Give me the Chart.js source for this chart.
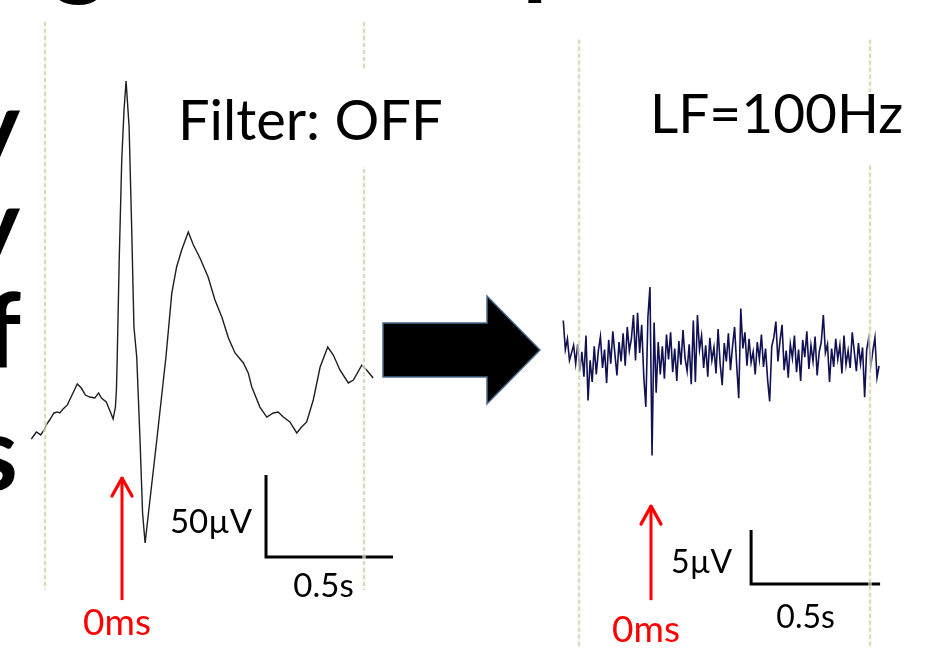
<!DOCTYPE html>
<html><head><meta charset="utf-8">
<script src="https://cdn.jsdelivr.net/npm/chart.js@4.4.0/dist/chart.umd.min.js"></script>
<style>
html,body{margin:0;padding:0;background:#fff;width:929px;height:648px;overflow:hidden}
canvas{position:absolute;left:0;top:0}
</style></head><body>
<canvas id="left" width="929" height="648"></canvas>
<canvas id="right" width="929" height="648"></canvas>
<script>
// ---------- DATA ----------
// Left panel: unfiltered trace (time in s, amplitude in µV)
const leftTime = [-0.357,-0.337,-0.320,-0.307,-0.298,-0.285,-0.268,-0.255,-0.245,-0.232,-0.215,-0.193,-0.176,-0.160,-0.144,-0.127,-0.107,-0.092,-0.081,-0.062,-0.044,-0.035,-0.026,-0.022,-0.019,-0.011,-0.001,0.008,0.016,0.028,0.038,0.047,0.058,0.071,0.081,0.091,0.110,0.137,0.173,0.196,0.215,0.235,0.261,0.281,0.307,0.339,0.366,0.393,0.419,0.445,0.478,0.497,0.511,0.543,0.570,0.596,0.615,0.635,0.661,0.688,0.707,0.727,0.753,0.780,0.810,0.832,0.858,0.891,0.911,0.944,0.963,0.989];
const leftMicroV = [-23.8,-19.5,-21.3,-18.3,-15.2,-12.2,-7.9,-7.3,-7.9,-5.5,-3.0,4.3,9.8,7.3,3.0,1.8,1.2,4.3,1.2,-1.2,-7.9,-11.6,-4.3,6.1,24.4,85.4,146.3,176.8,194.5,166.5,105.5,44.5,26.2,-24.4,-68.9,-87.2,-61.0,-24.4,26.2,65.2,81.1,91.5,102.4,94.5,86.6,75.0,61.0,50.6,37.8,28.7,22.6,16.5,7.9,-4.3,-10.4,-7.9,-7.3,-10.4,-13.4,-20.1,-16.5,-13.4,0,20.1,32.3,27.4,18.3,10.4,12.2,21.3,18.3,13.4];
const leftMarkerTimes = [-0.303, 0.953];
const leftScaleBar = {t: 0.567, v: -45.7, dT: 0.5, dV: 50, labelT: "0.5s", labelV: "50µV"};
const leftTitle = "Filter: OFF";

// Right panel: LF=100Hz filtered trace (sampled every rightStep s from rightStart)
const rightStart = -0.34, rightStep = 0.008;
const rightMicroV = [3.2,0.5,1.5,-0.5,0.2,0.9,-0.8,1.0,-1.5,0.3,-2.0,1.8,-4.2,-0.5,-2.5,0.8,-1.8,0.4,1.7,-1.2,
0.5,-2.6,1.4,-0.8,2.2,0.1,-1.9,1.2,-0.6,2.0,-1.0,2.6,0.4,1.5,3.7,-0.5,3.9,0.2,2.8,-2.0,
-4.8,3.5,6.3,-9.3,3.0,-3.5,1.2,-1.8,0.8,-2.2,1.9,-0.4,2.1,-1.6,0.6,-2.4,1.3,-0.9,2.3,-0.3,
-1.5,1.0,-2.7,3.2,-2.5,3.7,0.5,1.8,-1.2,0.9,-2.0,1.6,-0.5,0.7,-1.7,2.4,-0.8,-2.8,1.1,-0.6,
2.0,-1.4,0.8,2.6,-0.9,-4.0,4.3,0.6,2.1,-1.0,1.5,-0.7,0.3,-1.8,1.2,-0.4,1.9,-1.1,0.6,-2.3,
-4.3,0.8,1.6,3.1,-0.6,1.3,2.8,-1.4,0.4,-2.1,1.0,-0.3,1.8,-1.6,0.5,-2.4,1.4,-0.2,2.2,-1.3,
0.9,-0.6,1.7,-1.9,0.3,1.2,3.7,0.2,1.0,-2.5,0.6,-1.1,1.5,-0.4,0.9,-1.7,1.8,-0.9,0.4,-1.2,
2.1,0.3,-1.5,1.1,-0.8,0.7,-3.9,0.5,1.6,-1.0,0.4,1.6,-2.1,-1.0];
const rightMarkerTimes = [-0.279, 0.849];
const rightScaleBar = {t: 0.388, v: -16.2, dT: 0.5, dV: 5, labelT: "0.5s", labelV: "5µV"};
const rightTitle = "LF=100Hz";
const stimulusLabel = "0ms";

// ---------- LAYOUT (pixel placement of each panel) ----------
const W = 929, H = 648;
const LP = {x0: 122, pxPerS: 254, y0: 400, pxPerUV: 1.64, markTop: 230.5, markBot: -115.9, arrowTip: -47, arrowBot: -122};
const RP = {x0: 651, pxPerS: 258, y0: 355, pxPerUV: 10.8, markTop: 29.2, markBot: -27.2, arrowTip: -13.9, arrowBot: -22.7};

function scalesFor(P){
  return {
    x: {type:'linear', display:false, min: -P.x0/P.pxPerS, max: (W-P.x0)/P.pxPerS},
    y: {type:'linear', display:false, min: (P.y0-H)/P.pxPerUV, max: P.y0/P.pxPerUV}
  };
}
const FONT = 'Lato, "Open Sans", sans-serif';

function markerSets(times, P){
  const out = [];
  times.forEach(t=>{
    out.push({data:[{x:t,y:P.markTop},{x:t,y:P.markBot}], borderColor:'rgba(244,244,222,0.55)', borderWidth:4, pointRadius:0});
    out.push({data:[{x:t,y:P.markTop},{x:t,y:P.markBot}], borderColor:'#7e7e5e', borderWidth:1.1, borderDash:[4,3], pointRadius:0});
  });
  return out;
}
function barSet(sb){
  return {data:[{x:sb.t,y:sb.v},{x:sb.t,y:sb.v-sb.dV},{x:sb.t+sb.dT,y:sb.v-sb.dV}], borderColor:'#000', borderWidth:3, pointRadius:0, borderJoinStyle:'miter'};
}
function arrowSet(P){
  return {data:[{x:0,y:P.arrowBot},{x:0,y:P.arrowTip}], borderColor:'#ff0000', borderWidth:3, pointRadius:0};
}

function drawPanelText(chart, sb, P, titleCfg){
  const ctx = chart.ctx, xs = chart.scales.x, ys = chart.scales.y;
  ctx.save();
  // title box (white background hides marker lines)
  ctx.fillStyle = '#fff';
  ctx.fillRect(titleCfg.box[0], titleCfg.box[1], titleCfg.box[2], titleCfg.box[3]);
  ctx.fillStyle = '#000';
  ctx.font = titleCfg.size + 'px ' + FONT;
  ctx.textAlign = 'left'; ctx.textBaseline = 'alphabetic';
  ctx.fillText(titleCfg.text, titleCfg.x, titleCfg.y);
  // scale bar labels
  const bx = xs.getPixelForValue(sb.t), byBot = ys.getPixelForValue(sb.v - sb.dV);
  ctx.font = titleCfg.small + 'px ' + FONT;
  ctx.textAlign = 'right';
  ctx.fillText(sb.labelV, bx - titleCfg.vGap, titleCfg.vBase);
  ctx.textAlign = 'center';
  ctx.fillText(sb.labelT, (bx + xs.getPixelForValue(sb.t+sb.dT))/2 - titleCfg.tShift, byBot + titleCfg.tDrop);
  // red arrow head + label
  const ax = xs.getPixelForValue(0), ay = ys.getPixelForValue(P.arrowTip), ab = ys.getPixelForValue(P.arrowBot);
  ctx.strokeStyle = '#ff0000'; ctx.lineWidth = 3.2; ctx.lineCap='round'; ctx.lineJoin='round';
  ctx.beginPath(); ctx.moveTo(ax-10, ay+19); ctx.lineTo(ax, ay+1); ctx.lineTo(ax+10, ay+19); ctx.stroke();
  ctx.fillStyle = '#ff0000';
  ctx.font = titleCfg.zeroSize + 'px ' + FONT;
  ctx.textAlign = 'center';
  ctx.fillText(stimulusLabel, ax - 5, ab + titleCfg.zeroDrop);
  ctx.restore();
}

const leftDecor = {
  id:'leftDecor',
  afterDatasetsDraw(chart){
    drawPanelText(chart, leftScaleBar, LP, {text:leftTitle, x:178, y:140, size:56, box:[168,70,285,96], small:33, vGap:14, vBase:533, tShift:6, tDrop:40, zeroSize:37, zeroDrop:35});
    const ctx = chart.ctx;
    ctx.save();
    // big block arrow
    ctx.beginPath();
    ctx.moveTo(383,323); ctx.lineTo(487,323); ctx.lineTo(487,296); ctx.lineTo(540,350);
    ctx.lineTo(487,404); ctx.lineTo(487,377); ctx.lineTo(383,377); ctx.closePath();
    ctx.fillStyle = '#000'; ctx.fill();
    ctx.strokeStyle = '#4a6b8a'; ctx.lineWidth = 1.5; ctx.stroke();
    // cut-off slide title letters
    ctx.fillStyle = '#000';
    ctx.font = 'bold 104px ' + FONT;
    ctx.textAlign = 'right';
    ctx.fillText('y', 20, 164);
    ctx.fillText('y', 20, 262);
    ctx.fillText('f', 21, 368);
    ctx.fillText('s', 18, 490);
    ctx.textAlign = 'left';
    ctx.fillText('g', 52, -14);
    ctx.fillText('p', 522, -14);
    ctx.restore();
  }
};
const rightDecor = {
  id:'rightDecor',
  afterDatasetsDraw(chart){
    drawPanelText(chart, rightScaleBar, RP, {text:rightTitle, x:650, y:133, size:55, box:[640,92,275,72], small:32, vGap:19, vBase:573, tShift:10, tDrop:44, zeroSize:37, zeroDrop:42});
  }
};

const common = {
  responsive:false, animation:false, events:[],
  layout:{padding:0, autoPadding:false},
  plugins:{legend:{display:false}, tooltip:{enabled:false}},
  elements:{line:{tension:0}}
};

new Chart(document.getElementById('left'), {
  type:'line',
  data:{datasets:[
    ...markerSets(leftMarkerTimes, LP),
    {data: leftTime.map((t,i)=>({x:t, y:leftMicroV[i]})), borderColor:'#1e1e1e', borderWidth:1.4, pointRadius:0},
    barSet(leftScaleBar),
    arrowSet(LP)
  ]},
  options:{...common, scales: scalesFor(LP)},
  plugins:[leftDecor]
});

new Chart(document.getElementById('right'), {
  type:'line',
  data:{datasets:[
    ...markerSets(rightMarkerTimes, RP),
    {data: rightMicroV.map((v,i)=>({x: rightStart + i*rightStep, y: v})), borderColor:'#101052', borderWidth:1.6, pointRadius:0},
    barSet(rightScaleBar),
    arrowSet(RP)
  ]},
  options:{...common, scales: scalesFor(RP)},
  plugins:[rightDecor]
});
</script>
</body></html>
